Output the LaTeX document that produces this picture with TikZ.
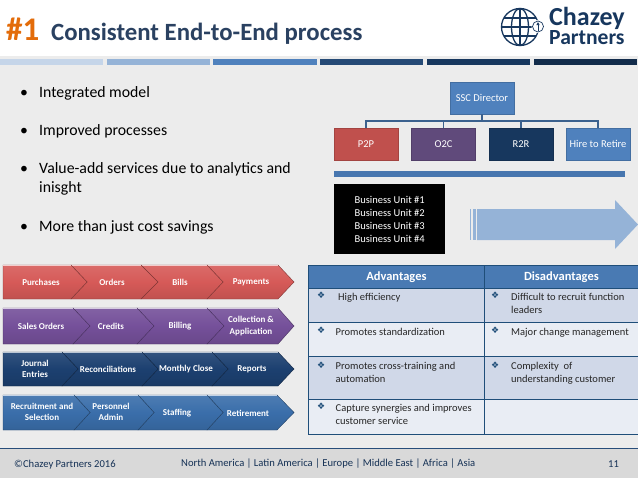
\documentclass[tikz,border=0pt]{standalone}
\usepackage{fontspec}
\usetikzlibrary{arrows.meta}
\setmainfont{Carlito}
\newfontfamily\djv{DejaVu Sans}
\definecolor{bgc}{HTML}{ECECEC}
\definecolor{navy}{HTML}{17375E}
\definecolor{titlec}{HTML}{2A4161}
\definecolor{orangec}{HTML}{E36C0A}
\definecolor{bluec}{HTML}{4F81BD}
\definecolor{redc}{HTML}{C0504D}
\definecolor{purc}{HTML}{604A7B}
\definecolor{footc}{HTML}{D9D9D9}
\definecolor{lilac}{HTML}{95B3D7}
\definecolor{rowa}{HTML}{D0D8E8}
\definecolor{rowb}{HTML}{E9EDF4}
\definecolor{tabl}{HTML}{1F4E79}
\definecolor{chred}{HTML}{D65A58}
\definecolor{chpur}{HTML}{75509A}
\definecolor{chnav}{HTML}{1C4070}
\definecolor{chblu}{HTML}{3A6EAA}
\tikzset{
  orgbox/.style={rectangle,draw=#1!85!black,line width=.3pt,fill=#1,inner sep=0pt,text=white,font=\fontsize{10.5}{12}\selectfont,minimum height=32pt,minimum width=64pt},
  orgline/.style={draw=bluec!75!black,line width=1.6pt},
  bartop/.style={fill=#1,draw=none},
  bullet/.style={anchor=base west,inner sep=0pt,text=black,font=\fontsize{15.8}{18}\selectfont},
  chevtxt/.style={text=white,align=center,inner sep=0pt,font=\fontsize{9}{11.5}\selectfont\bfseries},
  tcell/.style={rectangle,draw=tabl,line width=.8pt,fill=#1,anchor=north west,inner sep=0pt},
  thead/.style={text=white,inner sep=0pt,font=\fontsize{12.5}{14}\selectfont\bfseries},
  ttxt/.style={anchor=north west,inner sep=0pt,text=black!85,align=left,font=\fontsize{10.5}{13}\selectfont},
  tdia/.style={anchor=north west,inner sep=0pt,text=tabl,font=\djv\fontsize{9}{10}\selectfont},
  foot/.style={inner sep=0pt,text=navy!90!black,font=\fontsize{10.6}{12}\selectfont},
}
% x0 left, xb shoulder, xt tip, notch depth d, y0 top, y1 bottom, colour
\newcommand{\chev}[7]{%
  \path[draw=#7!60!black,line width=.4pt,top color=#7!90!white,bottom color=#7!90!black,middle color=#7]
    (#1,#5) -- (#2,#5) -- (#3,{(#5+#6)/2}) -- (#2,#6) -- (#1,#6) -- (#1+#4,{(#5+#6)/2}) -- cycle;
  \path[draw=white!70!#7,line width=.6pt] (#1,#5+.6) -- (#2,#5+.6);
}
\begin{document}
\begin{tikzpicture}[x=1pt,y=-1pt]
\useasboundingbox (0,0) rectangle (638,479);
\fill[white] (0,0) rectangle (638,479);
\fill[bgc] (0,56) rectangle (638,449);
\fill[footc] (0,449) rectangle (638,478);
\draw[navy!70!bluec,line width=.8pt] (0,448.5) -- (638,448.5);
% title
\node[anchor=base west,inner sep=0pt,text=orangec,font=\fontsize{33}{35}\selectfont\bfseries] (num) at (6,40) {\#1};
\node[anchor=base west,inner sep=0pt,text=titlec,font=\fontsize{24.8}{27}\selectfont\bfseries] (ttl) at (51,40) {Consistent End-to-End process};
% top bars
\fill[bartop=lilac!55!white] (0,59) rectangle (103,65);
\fill[bartop=lilac] (107,59) rectangle (210,65);
\fill[bartop=bluec] (213,59) rectangle (317,65);
\fill[bartop=navy!75!bluec] (320,59) rectangle (423,65);
\fill[bartop=navy] (427,59) rectangle (530,65);
\fill[bartop=navy!80!black] (534,59) rectangle (637,65);
% logo
\begin{scope}[shift={(520,27)},draw=navy,line width=1.3pt]
 \draw (0,0) circle (18.5);
 \draw (0,0) ellipse (8.5 and 18.5);
 \draw (0,-18.5) -- (0,18.5);
 \draw (-18.5,0) -- (18.5,0);
 \draw (-16,-9) -- (16,-9);
 \draw (-16,9) -- (16,9);
\end{scope}
\fill[white] (538,26.5) circle (6.5);
\draw[navy,line width=.7pt] (538,26.5) circle (5.5);
\draw[navy,line width=.8pt,-{Latex[length=3pt,width=3.5pt]}] (538,31) -- (538,22);
\node[anchor=base west,inner sep=0pt,text=navy,font=\fontsize{26}{28}\selectfont\bfseries] (chz) at (549,25.5) {Chazey};
\node[anchor=base west,inner sep=0pt,text=navy,font=\fontsize{21.6}{24}\selectfont\bfseries] (prt) at (549,45) {Partners};
% bullets
\foreach \yy/\lbl in {97/Integrated model,135/Improved processes,173/Value-add services due to analytics and,231/More than just cost savings}{
  \node[bullet] at (20,\yy) {•};
  \node[bullet] at (39,\yy) {\lbl};
}
\node[bullet] (ins) at (39,192) {inisght};
% org chart
\node[orgbox=bluec] (ssc) at (482,98) {SSC Director};
\node[orgbox=redc] (p2p) at (366,144) {P2P};
\node[orgbox=purc] (o2c) at (443.5,144) {O2C};
\node[orgbox=navy] (r2r) at (521,144) {R2R};
\node[orgbox=bluec] (htr) at (598,144) {Hire to Retire};
\foreach \n in {p2p,o2c,r2r,htr}{
  \draw[orgline] (ssc.south) -- ++(0,7) -| (\n.north);
}
\fill[bluec!85!navy] (334,171) rectangle (625,177);
\node[rectangle,fill=black,text=white,anchor=north west,minimum width=111pt,minimum height=70pt,inner sep=0pt,align=center,font=\fontsize{10.5}{13}\selectfont] (bu) at (334,184) {Business Unit \#1\\Business Unit \#2\\Business Unit \#3\\Business Unit \#4};
% arrow
\fill[lilac] (477,209) -- (615,209) -- (615,200) -- (638,224.5) -- (615,249) -- (615,240) -- (477,240) -- cycle;
\fill[lilac] (470,209) rectangle (471,240);
\fill[lilac] (472.5,209) rectangle (475.5,240);
% chevrons
\chev{207}{278}{294}{16}{265}{299}{chred}
\chev{141}{207}{223}{16}{265}{299}{chred}
\chev{71}{141}{158}{16}{265}{299}{chred}
\chev{3}{71}{87}{0}{265}{299}{chred}
\chev{207}{278}{294}{16}{308}{344}{chpur}
\chev{137}{207}{224}{16}{308}{344}{chpur}
\chev{73}{137}{154}{16}{308}{344}{chpur}
\chev{3}{73}{90}{0}{308}{344}{chpur}
\chev{212}{278}{294}{16}{352}{386}{chnav}
\chev{142}{212}{228}{16}{352}{386}{chnav}
\chev{62}{142}{158}{16}{352}{386}{chnav}
\chev{3}{62}{78}{0}{352}{386}{chnav}
\chev{207}{277}{294}{16}{395}{430}{chblu}
\chev{138}{207}{223}{16}{395}{430}{chblu}
\chev{74}{138}{154}{16}{395}{430}{chblu}
\chev{3}{74}{90}{0}{395}{430}{chblu}
\node[chevtxt] (a1) at (41,282) {Purchases};
\node[chevtxt] (a2) at (112,282) {Orders};
\node[chevtxt] (a3) at (180,282) {Bills};
\node[chevtxt] (a4) at (251,282) {Payments};
\node[chevtxt] (b1) at (41,326) {Sales Orders};
\node[chevtxt] (b2) at (111,326) {Credits};
\node[chevtxt] (b3) at (180,326) {Billing};
\node[chevtxt] (b4) at (251,326) {Collection \&\\Application};
\node[chevtxt] (c1) at (35,369) {Journal\\Entries};
\node[chevtxt] (c2) at (108,369) {Reconciliations};
\node[chevtxt] (c3) at (186,369) {Monthly Close};
\node[chevtxt] (c4) at (252,369) {Reports};
\node[chevtxt] (d1) at (42,412) {Recruitment and\\Selection};
\node[chevtxt] (d2) at (111,412) {Personnel\\Admin};
\node[chevtxt] (d3) at (177,413) {Staffing};
\node[chevtxt] (d4) at (248,413) {Retirement};
% table
\foreach \x/\w/\cn in {308/176/l,484/154/r}{
  \node[tcell=bluec!90!navy,minimum width=\w pt,minimum height=23pt] (h\cn) at (\x,265) {};
  \node[tcell=rowa,minimum width=\w pt,minimum height=34pt] (r1\cn) at (\x,288) {};
  \node[tcell=rowb,minimum width=\w pt,minimum height=34pt] (r2\cn) at (\x,322) {};
  \node[tcell=rowa,minimum width=\w pt,minimum height=43pt] (r3\cn) at (\x,356) {};
  \node[tcell=rowb,minimum width=\w pt,minimum height=35pt] (r4\cn) at (\x,399) {};
}
\node[thead] at (hl.center) {Advantages};
\node[thead] at (hr.center) {Disadvantages};
\foreach \yy in {292,327,362,403}{\node[tdia] at (317,\yy) {❖};}
\foreach \yy in {292,327,362}{\node[tdia] at (491,\yy) {❖};}
\node[ttxt] at (338,293) {High efficiency};
\node[ttxt] at (335.5,328) {Promotes standardization};
\node[ttxt] at (335.5,362.5) {Promotes cross-training and\\automation};
\node[ttxt] at (335.5,404) {Capture synergies and improves\\customer service};
\node[ttxt] at (511,293) {Difficult to recruit function\\leaders};
\node[ttxt] at (511,328) {Major change management};
\node[ttxt] at (511,362.5) {Complexity\ \ of\\understanding customer};
% footer
\node[foot,anchor=west] (f1) at (14,464.5) {©Chazey Partners 2016};
\node[foot,anchor=west] (f2) at (181,463.5) {North America | Latin America | Europe | Middle East | Africa | Asia};
\node[foot,anchor=west] (f3) at (608,464.5) {11};
\end{tikzpicture}
\end{document}
